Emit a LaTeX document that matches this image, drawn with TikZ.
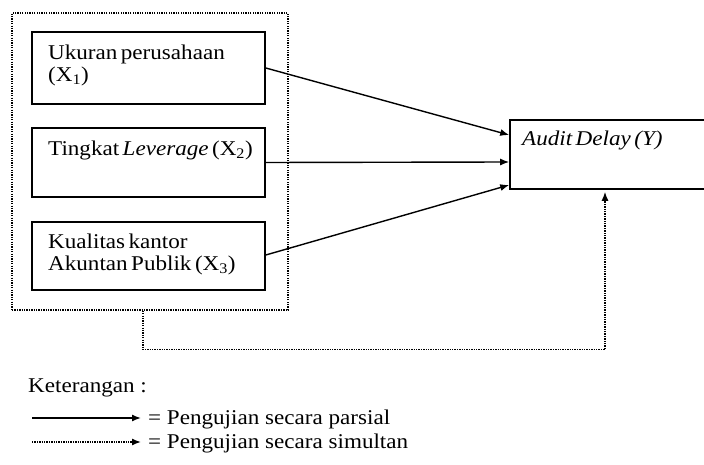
\documentclass[tikz,border=0pt]{standalone}
\usepackage{fontspec}
\setmainfont{Liberation Serif}[FakeStretch=1.1, WordSpace=0.6]
\newfontfamily\legfont{Liberation Serif}[FakeStretch=1.1]
\usetikzlibrary{arrows.meta}
\tikzset{
  box/.style={draw, line width=1.6pt, rectangle, inner sep=0pt},
  grp/.style={draw, line width=1.4pt, dash pattern=on 1.3pt off 1.1pt, rectangle, inner sep=0pt},
  lbl/.style={anchor=north west, inner sep=0pt, align=left, font=\fontsize{21}{22}\selectfont},
  leg/.style={anchor=base west, inner sep=0pt, font=\legfont\fontsize{21}{22}\selectfont},
  parsial/.style={line width=1.4pt, -{Latex[length=9pt,width=7pt]}},
  simultan/.style={line width=1.4pt, dash pattern=on 1.3pt off 1.1pt, -{Latex[length=9pt,width=7pt]}},
}
\begin{document}
\begin{tikzpicture}[x=1pt,y=-1pt]
\clip (0,0) rectangle (704,465);
\fill[white] (0,0) rectangle (704,465);
% group box
\node[grp, minimum width=276pt, minimum height=297pt] (grp) at (150,161.5) {};
% variable boxes
\node[box, minimum width=233pt, minimum height=72pt] (b1) at (148.5,68) {};
\node[box, minimum width=233pt, minimum height=69pt] (b2) at (148.5,162.5) {};
\node[box, minimum width=233pt, minimum height=68pt] (b3) at (148.5,256) {};
\node[box, minimum width=210pt, minimum height=69pt] (yb) at (615,154.5) {};
% texts
\node[lbl] (t1) at (48,45) {Ukuran perusahaan\\(X\textsubscript{1})};
\node[lbl] (t2) at (48,141) {Tingkat \textit{Leverage} (X\textsubscript{2})};
\node[lbl] (t3) at (48,234) {Kualitas kantor\\Akuntan Publik (X\textsubscript{3})};
\node[lbl] (ty) at (522,131) {\textit{Audit Delay (Y)}};
% partial arrows
\draw[parsial] (b1.east) -- ([yshift=19.5pt]yb.west);
\draw[parsial] (b2.east) -- ([yshift=-7.5pt]yb.west);
\draw[parsial] ([yshift=1pt]b3.east) -- ([yshift=-30.5pt]yb.west);
% simultaneous arrow
\draw[simultan, shorten >=2pt] ([xshift=-7pt]grp.south) -- ++(0,39) -| ([xshift=-10pt]yb.south);
% legend
\node[leg] (ket) at (28,392) {Keterangan :};
\coordinate (l1s) at (32,418);
\coordinate (l1e) at (141,418);
\coordinate (l2s) at (32,442);
\coordinate (l2e) at (141,442);
\draw[parsial] (l1s) -- (l1e);
\draw[simultan] (l2s) -- (l2e);
\node[leg] (lp) at (148,424) {= Pengujian secara parsial};
\node[leg] (ls) at (148,448) {= Pengujian secara simultan};
\end{tikzpicture}
\end{document}
